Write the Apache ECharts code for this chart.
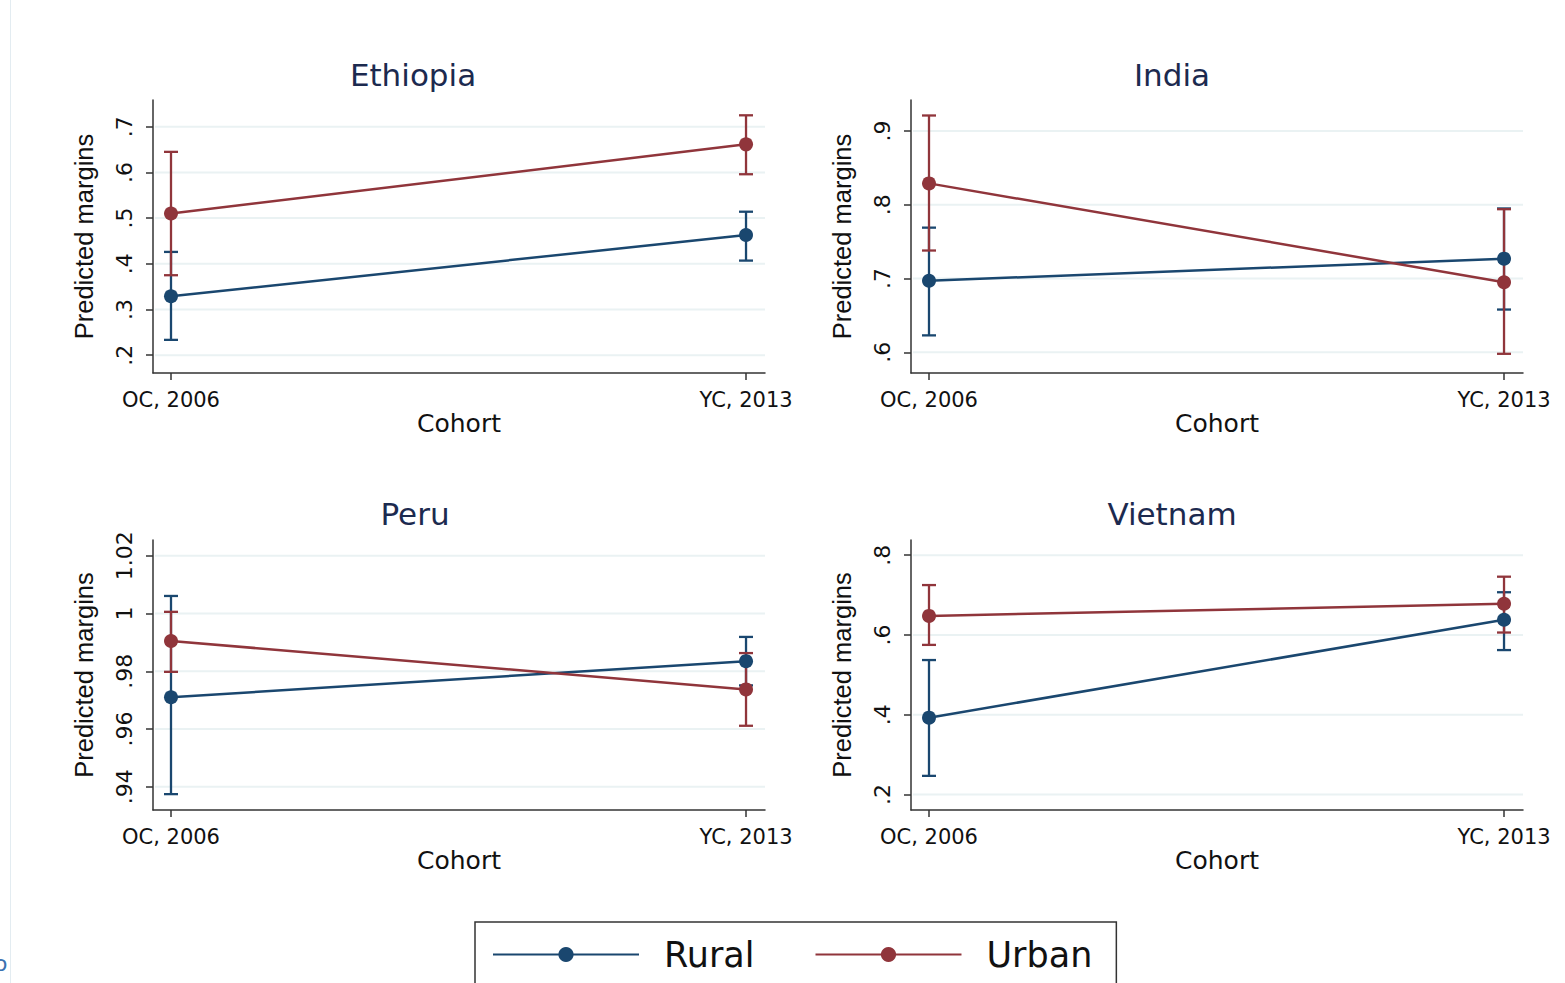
<!DOCTYPE html>
<html><head><meta charset="utf-8">
<script src="https://cdn.jsdelivr.net/npm/echarts@6/dist/echarts.min.js"></script>
<style>html,body{margin:0;padding:0;background:#fff}#c{width:1565px;height:983px}</style>
</head><body><div id="c"></div>
<script>
// ---- data ----
const countries = ['Ethiopia', 'India', 'Peru', 'Vietnam'];
const cohorts = ['OC, 2006', 'YC, 2013'];
const groups = ['Rural', 'Urban'];
const ruralMean = [[0.329, 0.463], [0.697, 0.727], [0.971, 0.9835], [0.3925, 0.638]];
const ruralLow  = [[0.2335, 0.407], [0.623, 0.658], [0.9374, 0.9751], [0.2466, 0.562]];
const ruralHigh = [[0.426, 0.514], [0.769, 0.795], [1.0061, 0.9919], [0.537, 0.707]];
const urbanMean = [[0.51, 0.6615], [0.829, 0.695], [0.9905, 0.9737], [0.6476, 0.678]];
const urbanLow  = [[0.375, 0.596], [0.738, 0.598], [0.9798, 0.9611], [0.575, 0.606]];
const urbanHigh = [[0.645, 0.725], [0.921, 0.794], [1.0006, 0.9863], [0.725, 0.746]];
const yTicks = [[0.2, 0.3, 0.4, 0.5, 0.6, 0.7], [0.6, 0.7, 0.8, 0.9], [0.94, 0.96, 0.98, 1.0, 1.02], [0.2, 0.4, 0.6, 0.8]];
const yTickLabels = [['.2', '.3', '.4', '.5', '.6', '.7'], ['.6', '.7', '.8', '.9'], ['.94', '.96', '.98', '1', '1.02'], ['.2', '.4', '.6', '.8']];
const yRange = [[0.161, 0.7585], [0.572, 0.942], [0.9319, 1.0255], [0.161, 0.838]];

// ---- styling / layout ----
const NAVY = '#1a476f', MAROON = '#90353b';
const FONT = 'DejaVu Sans';
const grids = [
  {left: 153, top: 100, width: 612, height: 273},
  {left: 911, top: 100, width: 612, height: 273},
  {left: 153, top: 540, width: 612, height: 270},
  {left: 911, top: 540, width: 612, height: 270}
];
const titlePos = [[413, 59], [1172, 59], [415, 498], [1172, 498]];

const xAxes = [], yAxes = [], series = [];
countries.forEach((c, gi) => {
  xAxes.push({
    type: 'value', gridIndex: gi, min: -0.0313, max: 1.033,
    axisLine: {show: true, onZero: false, lineStyle: {color: '#333', width: 1.5}},
    axisTick: {show: true, customValues: [0, 1], length: 7, lineStyle: {color: '#333', width: 1.5}},
    axisLabel: {customValues: [0, 1], formatter: v => cohorts[Math.round(v)], fontFamily: FONT, fontSize: 21, color: '#111', margin: 16},
    splitLine: {show: false},
    name: 'Cohort', nameLocation: 'middle', nameGap: 37,
    nameTextStyle: {fontFamily: FONT, fontSize: 25, color: '#111'}
  });
  yAxes.push({
    type: 'value', gridIndex: gi, min: yRange[gi][0], max: yRange[gi][1],
    axisLine: {show: true, onZero: false, lineStyle: {color: '#333', width: 1.5}},
    axisTick: {show: true, customValues: yTicks[gi], length: 7, lineStyle: {color: '#333', width: 1.5}},
    axisLabel: {
      customValues: yTicks[gi], rotate: 90, margin: 18,
      formatter: v => { const i = yTicks[gi].findIndex(t => Math.abs(t - v) < 1e-9); return i >= 0 ? yTickLabels[gi][i] : ''; },
      fontFamily: FONT, fontSize: 22, color: '#111'
    },
    splitLine: {show: false},
    name: 'Predicted margins', nameLocation: 'middle', nameGap: 56, nameRotate: 90,
    nameTextStyle: {fontFamily: 'Liberation Sans', fontSize: 25.5, color: '#111'}
  });
  // gridlines
  series.push({
    type: 'custom', xAxisIndex: gi, yAxisIndex: gi, z: 1, silent: true,
    data: yTicks[gi].map(v => [0, v]), encode: {x: 0, y: 1},
    renderItem(params, api) {
      const cs = params.coordSys;
      const y = api.coord([0, api.value(1)])[1];
      return {type: 'line', shape: {x1: cs.x + 2, y1: y, x2: cs.x + cs.width, y2: y}, style: {stroke: '#eaf2f3', lineWidth: 2}};
    }
  });
  const lows = [ruralLow[gi], urbanLow[gi]], highs = [ruralHigh[gi], urbanHigh[gi]];
  const means = [ruralMean[gi], urbanMean[gi]];
  [NAVY, MAROON].forEach((col, k) => {
    series.push({
      type: 'line', name: groups[k], xAxisIndex: gi, yAxisIndex: gi, z: 4,
      data: means[k].map((m, j) => [j, m]),
      symbol: 'circle', symbolSize: 14, showSymbol: true,
      lineStyle: {color: col, width: 2.5}, itemStyle: {color: col},
      emphasis: {disabled: true}
    });
  });
  [NAVY, MAROON].forEach((col, k) => {
    series.push({
      type: 'custom', name: groups[k] + ' CI', xAxisIndex: gi, yAxisIndex: gi, z: 3, silent: true,
      data: lows[k].map((lo, j) => [j, lo, highs[k][j]]),
      encode: {x: 0, y: [1, 2]},
      renderItem(params, api) {
        const x = api.value(0);
        const p1 = api.coord([x, api.value(1)]);
        const p2 = api.coord([x, api.value(2)]);
        const w = 7;
        const style = {stroke: col, lineWidth: 2.3, fill: null};
        return {type: 'group', children: [
          {type: 'line', shape: {x1: p1[0], y1: p1[1], x2: p2[0], y2: p2[1]}, style},
          {type: 'line', shape: {x1: p1[0] - w, y1: p1[1], x2: p1[0] + w, y2: p1[1]}, style},
          {type: 'line', shape: {x1: p2[0] - w, y1: p2[1], x2: p2[0] + w, y2: p2[1]}, style}
        ]};
      }
    });
  });
});

const option = {
  backgroundColor: '#fff',
  animation: false,
  title: countries.map((c, i) => ({
    text: c, left: titlePos[i][0], top: titlePos[i][1], textAlign: 'center', padding: 0,
    textStyle: {fontFamily: FONT, fontSize: 31, fontWeight: 'normal', color: '#1c2a4f'}
  })),
  grid: grids,
  xAxis: xAxes,
  yAxis: yAxes,
  legend: {
    data: groups, left: 475, top: 922, orient: 'horizontal',
    itemWidth: 146, itemHeight: 19, itemGap: 60,
    padding: [15, 24, 40, 17],
    borderColor: '#333', borderWidth: 1.5, borderRadius: 0,
    selectedMode: false,
    textStyle: {fontFamily: FONT, fontSize: 35, color: '#111', padding: [0, 0, 0, 20]}
  },
  graphic: [
    {type: 'line', shape: {x1: 10.5, y1: 0, x2: 10.5, y2: 983}, style: {stroke: '#e3ecf1', lineWidth: 1}, silent: true},
    {type: 'text', x: -6, y: 952, style: {text: 'o', fill: '#3b72b0', font: '22px "DejaVu Sans"'}, silent: true}
  ],
  series: series
};
const chart = echarts.init(document.getElementById('c'), null, {renderer: 'svg'});
chart.setOption(option);
</script>
</body></html>
